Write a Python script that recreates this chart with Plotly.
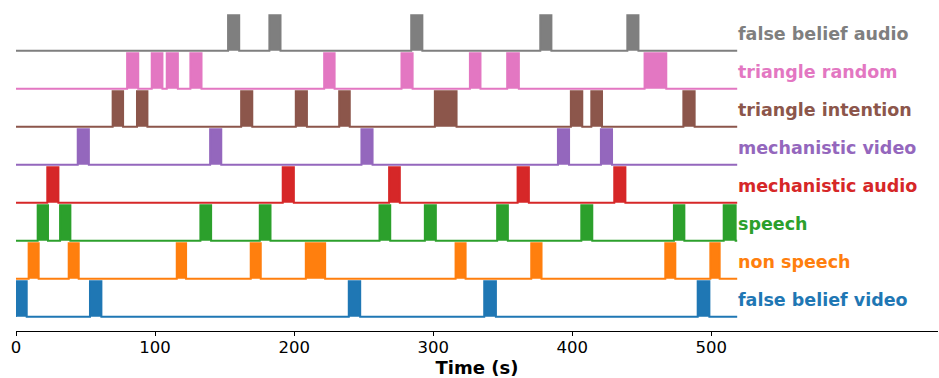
import plotly.graph_objects as go

conditions = ["false belief video", "non speech", "speech", "mechanistic audio",
              "mechanistic video", "triangle intention", "triangle random", "false belief audio"]
colors = ["#1f77b4", "#ff7f0e", "#2ca02c", "#d62728", "#9467bd", "#8c564b", "#e377c2", "#7f7f7f"]

onsets = {
    "false belief audio": [152.5, 182.2, 284.2, 377.0, 439.6],
    "triangle random": [79.9, 97.6, 108.4, 125.4, 221.6, 277.2, 326.4, 353.2, 452.0],
    "triangle intention": [69.5, 87.0, 161.9, 201.2, 232.4, 301.2, 399.0, 413.7, 479.9],
    "mechanistic video": [44.4, 139.6, 248.4, 389.7, 420.6],
    "mechanistic audio": [22.5, 191.8, 268.3, 360.7, 430.2],
    "speech": [15.6, 31.7, 132.6, 175.3, 261.4, 294.0, 346.0, 406.5, 473.1, 508.9],
    "non speech": [9.1, 37.9, 115.6, 168.8, 208.4, 316.1, 370.5, 466.9, 499.3],
    "false belief video": [0.0, 53.2, 239.3, 336.7, 490.2],
}
durations = {
    "false belief audio": [8.0, 8.0, 8.0, 8.0, 8.0],
    "triangle random": [8.0, 7.7, 8.0, 8.0, 7.5, 8.0, 7.6, 8.4, 15.6],
    "triangle intention": [7.5, 7.5, 8.0, 8.0, 7.6, 15.6, 8.2, 7.7, 8.1],
    "mechanistic video": [8.0, 8.0, 8.0, 8.0, 8.0],
    "mechanistic audio": [8.0, 8.0, 7.7, 8.1, 8.0],
    "speech": [7.4, 7.4, 7.7, 7.7, 7.7, 7.9, 7.7, 7.9, 7.5, 8.6],
    "non speech": [7.2, 7.2, 6.7, 7.2, 13.9, 7.2, 7.4, 7.2, 6.7],
    "false belief video": [7.7, 8.2, 8.2, 8.4, 8.4],
}
total_time = 518.6
tick_vals = [0, 100, 200, 300, 400, 500]
block_height = 0.93

fig = go.Figure()
for i, (name, col) in enumerate(zip(conditions, colors)):
    xs, ys = [0.0], [i]
    for on, d in zip(onsets[name], durations[name]):
        xs += [on, on, on + d, on + d]
        ys += [i, i + block_height, i + block_height, i]
    xs.append(total_time)
    ys.append(i)
    fig.add_trace(go.Scatter(x=xs, y=ys, mode="lines", fill="toself",
                             fillcolor=col, line=dict(color=col, width=2),
                             hoverinfo="skip", showlegend=False))
    fig.add_annotation(x=total_time - 1.2, y=i + 0.45, text="<b>%s</b>" % name,
                       xanchor="left", yanchor="middle", showarrow=False,
                       font=dict(family="DejaVu Sans", size=17.5, color=col))

fig.update_layout(
    width=939, height=378,
    margin=dict(l=16, r=1, t=10, b=47),
    plot_bgcolor="white", paper_bgcolor="white",
    font=dict(family="DejaVu Sans", color="black"),
    xaxis=dict(range=[0, 663], tickvals=tick_vals, showgrid=False, zeroline=False,
               showline=True, linecolor="black", linewidth=1,
               ticks="outside", ticklen=4, tickcolor="black",
               tickfont=dict(size=16.5), ticklabelstandoff=-3,
               title=dict(text="<b>Time (s)</b>", font=dict(size=18), standoff=4)),
    yaxis=dict(range=[-0.376, 8.07], visible=False, showgrid=False, zeroline=False),
)
fig.write_html("out.html")
